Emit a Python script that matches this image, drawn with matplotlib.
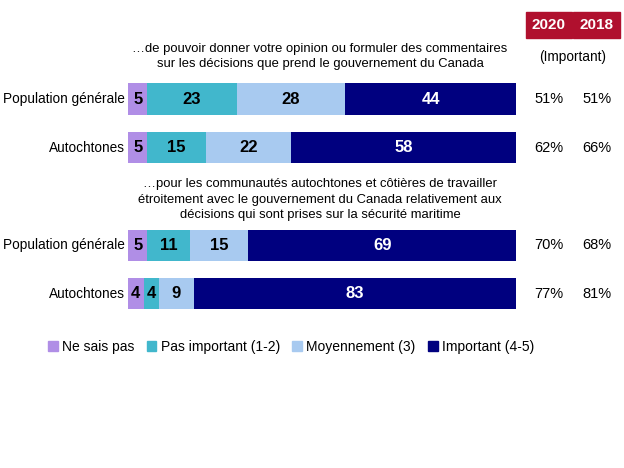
import matplotlib
matplotlib.use('Agg')
import matplotlib.pyplot as plt
from matplotlib.patches import Patch, Rectangle
from matplotlib import font_manager

# data
groups = ['Population générale', 'Autochtones', 'Population générale', 'Autochtones']
ne_sais_pas = [5, 5, 5, 4]
pas_important = [23, 15, 11, 4]
moyennement = [28, 22, 15, 9]
important = [44, 58, 69, 83]
imp_2020 = ['51%', '62%', '70%', '77%']
imp_2018 = ['51%', '66%', '68%', '81%']
series_names = ['Ne sais pas', 'Pas important (1-2)', 'Moyennement (3)', 'Important (4-5)']
colors = ['#B08EE6', '#41B7CC', '#A8CAF0', '#00007F']
text_colors = ['black', 'black', 'black', 'white']
titles = ['…de pouvoir donner votre opinion ou formuler des commentaires\nsur les décisions que prend le gouvernement du Canada',
          '…pour les communautés autochtones et côtières de travailler\nétroitement avec le gouvernement du Canada relativement aux\ndécisions qui sont prises sur la sécurité maritime']
years = ['2020', '2018']

names = {f.name for f in font_manager.fontManager.ttflist}
font = 'Liberation Sans Narrow' if 'Liberation Sans Narrow' in names else 'Liberation Sans'
plt.rcParams['font.family'] = [font, 'DejaVu Sans']

W, H = 624, 468
fig = plt.figure(figsize=(W / 100, H / 100), dpi=100)
x0, x1 = 128, 516
unit = 48.7
ax = fig.add_axes([x0 / W, 0, (x1 - x0) / W, 1])
ax.set_xlim(0, 100)
top = 99 / unit
ax.set_ylim((H - 99) / unit, -top)
ax.axis('off')

ypos = [0, 1, 3, 4]
data = [ne_sais_pas, pas_important, moyennement, important]
left = [0] * 4
for vals, col, tc in zip(data, colors, text_colors):
    ax.barh(ypos, vals, left=left, height=0.64, color=col)
    for y, l, v in zip(ypos, left, vals):
        ax.text(l + v / 2, y, str(v), ha='center', va='center', color=tc,
                fontsize=12, fontweight='bold')
    left = [a + b for a, b in zip(left, vals)]

for y, g, a, b in zip(ypos, groups, imp_2020, imp_2018):
    ax.text(-0.8, y, g, ha='right', va='center', fontsize=9.8)
    ax.text(108.5, y, a, ha='center', va='center', fontsize=10.5, clip_on=False)
    ax.text(120.9, y, b, ha='center', va='center', fontsize=10.5, clip_on=False)

ax.text(49.5, -0.873, titles[0], ha='center', va='center', fontsize=9.4, linespacing=1.4)
ax.text(49.5, 2.07, titles[1], ha='center', va='center', fontsize=9.4, linespacing=1.4)

# header boxes
for xa, xb, yr in [(526, 572, years[0]), (573, 620, years[1])]:
    fig.patches.append(Rectangle((xa / W, 1 - 38 / H), (xb - xa) / W, 26 / H,
                                 transform=fig.transFigure, color='#B0102E'))
    fig.text((xa + xb) / 2 / W, 1 - 25 / H, yr, ha='center', va='center',
             color='white', fontsize=11, fontweight='bold')
fig.text(572.5 / W, 1 - 57 / H, '(Important)', ha='center', va='center', fontsize=9.8)

handles = [Patch(color=c) for c in colors]
fig.legend(handles, series_names, loc='center', bbox_to_anchor=(291 / W, 1 - 347 / H),
           ncol=4, frameon=False, fontsize=10, handlelength=0.7, handleheight=0.7,
           handletextpad=0.3, columnspacing=0.9)

fig.savefig('out.png', dpi=100)
